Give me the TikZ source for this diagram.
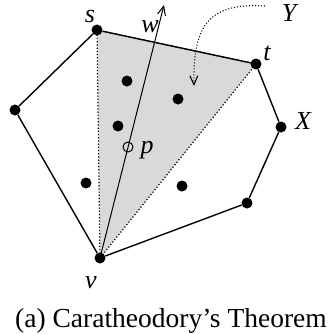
\documentclass[tikz,border=0pt]{standalone}
\usepackage{fontspec}
\setmainfont{Liberation Serif}
\usepackage{tikz}
\usetikzlibrary{arrows.meta,backgrounds}
\definecolor{trigray}{gray}{0.85}

\begin{document}
\begin{tikzpicture}[
  x=1pt, y=-1pt,
  pt/.style={circle, fill=black, inner sep=0pt, minimum size=11pt},
  hollow/.style={circle, draw=black, line width=1pt, inner sep=0pt, minimum size=10pt},
  lbl/.style={font=\fontsize{26}{30}\selectfont\itshape, inner sep=0pt},
  hull/.style={line width=1.4pt},
  tri/.style={dotted, line width=1.2pt},
  arr/.style={-{Straight Barb[length=9pt, width=8pt]}, line width=1pt}
]
  \useasboundingbox (0,0) rectangle (335,333);

  % Points of X
  \node[pt] (s) at (97,30) {};
  \node[pt] (t) at (256,64) {};
  \node[pt] (xr) at (281,127) {};
  \node[pt] (br) at (247,203) {};
  \node[pt] (v) at (100,258) {};
  \node[pt] (lf) at (15,110) {};
  \node[pt] (a1) at (127,81) {};
  \node[pt] (a2) at (178,99) {};
  \node[pt] (a3) at (118,126) {};
  \node[pt] (a4) at (86,183) {};
  \node[pt] (a5) at (182,186) {};

  % Triangle Y
  \begin{scope}[on background layer]
    \fill[trigray] (s.center) -- (t.center) -- (v.center) -- cycle;
    \draw[tri] (s.center) -- (t.center) -- (v.center) -- cycle;
  \end{scope}

  % Hull
  \draw[hull] (s) -- (t) -- (xr) -- (br) -- (v) -- (lf) -- (s);

  % Ray from v through p
  \coordinate (wtip) at (164,5);
  \draw[arr] (v.center) -- (wtip);
  \node[hollow] (p) at (128,147) {};

  % Pointer to Y
  \coordinate (ystart) at (265,6);
  \coordinate (yend) at (194,86);
  \draw[arr, dotted, line width=1.1pt] (ystart) .. controls (205,2) and (193,30) .. (yend);

  % Labels
  \node[lbl] (ls) at (90,16) {s};
  \node[lbl] (lw) at (150,27) {w};
  \node[lbl] (lt) at (267,53) {t};
  \node[lbl] (ly) at (289,13) {Y};
  \node[lbl] (lx) at (303,121) {X};
  \node[lbl] (lp) at (147,150) {p};
  \node[lbl] (lv) at (91,283) {v};

  % Caption
  \node[font=\fontsize{27.5}{30}\selectfont, inner sep=0pt, anchor=base] (cap) at (171,327) {(a) Caratheodory’s Theorem};
\end{tikzpicture}
\end{document}
